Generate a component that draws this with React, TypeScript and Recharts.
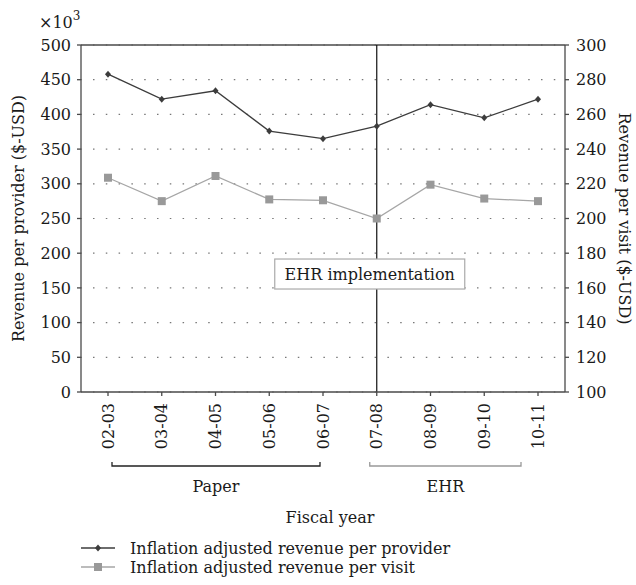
import React from "react";
import {
  LineChart,
  Line,
  XAxis,
  YAxis,
  CartesianGrid,
  ReferenceLine,
  ReferenceArea,
  Legend,
} from "recharts";

const fiscalYears = ["02-03", "03-04", "04-05", "05-06", "06-07", "07-08", "08-09", "09-10", "10-11"];
// thousands of USD
const revenuePerProvider = [458, 422, 434, 376, 365, 383, 414, 395, 422];
const revenuePerVisit = [223.5, 210, 224.5, 211, 210.5, 200, 219.5, 211.5, 210];
const leftTicks = [0, 50, 100, 150, 200, 250, 300, 350, 400, 450, 500];
const rightTicks = [100, 120, 140, 160, 180, 200, 220, 240, 260, 280, 300];
const seriesNames = [
  "Inflation adjusted revenue per provider",
  "Inflation adjusted revenue per visit",
];

const data = fiscalYears.map((year, i) => ({
  year,
  provider: revenuePerProvider[i],
  visit: revenuePerVisit[i],
}));

const FONT = "'DejaVu Serif', serif";
const FS = 16;
const AXIS = "#4a4a4a";
const DARK = "#3c3c3c";
const LIGHT = "#a6a6a6";

const Diamond = (props: any) => {
  const { cx, cy, index } = props;
  if (cx == null || cy == null) return null;
  return (
    <path
      key={"d" + index}
      d={`M${cx},${cy - 3.5}L${cx + 3},${cy}L${cx},${cy + 3.5}L${cx - 3},${cy}Z`}
      fill={DARK}
    />
  );
};

const Square = (props: any) => {
  const { cx, cy, index } = props;
  if (cx == null || cy == null) return null;
  return <rect key={"s" + index} x={cx - 4} y={cy - 4} width={8} height={8} fill="#999" />;
};

const YearTick = (props: any) => {
  const { x, y, payload } = props;
  return (
    <text
      x={x}
      y={y + 5}
      transform={`rotate(-90 ${x} ${y + 5})`}
      textAnchor="end"
      dy="0.35em"
      fontFamily={FONT}
      fontSize={FS}
      fill="#1a1a1a"
    >
      {payload.value}
    </text>
  );
};

const LeftLabel = (props: any) => {
  const { viewBox } = props;
  const { y, height } = viewBox;
  const cy = y + height / 2;
  return (
    <g fontFamily={FONT} fill="#1a1a1a">
      <text x={39} y={y - 17} fontSize={FS}>
        ×10
        <tspan dy={-8} fontSize={12}>3</tspan>
      </text>
      <text
        x={18}
        y={cy}
        transform={`rotate(-90 18 ${cy})`}
        textAnchor="middle"
        dominantBaseline="central"
        fontSize={FS}
      >
        Revenue per provider ($-USD)
      </text>
    </g>
  );
};

const RightLabel = (props: any) => {
  const { viewBox } = props;
  const { y, height } = viewBox;
  const cy = y + height / 2;
  return (
    <text
      x={624}
      y={cy}
      transform={`rotate(90 624 ${cy})`}
      textAnchor="middle"
      dominantBaseline="central"
      fontFamily={FONT}
      fontSize={FS}
      fill="#1a1a1a"
    >
      Revenue per visit ($-USD)
    </text>
  );
};

const FiscalLabel = (props: any) => {
  const { viewBox } = props;
  return (
    <text
      x={viewBox.x + viewBox.width / 2 + 7}
      y={viewBox.y + 125}
      textAnchor="middle"
      dominantBaseline="central"
      fontFamily={FONT}
      fontSize={FS}
      fill="#1a1a1a"
    >
      Fiscal year
    </text>
  );
};

const EhrLabel = (props: any) => {
  const { viewBox } = props;
  const cx = viewBox.x - 7;
  const cy = viewBox.y + viewBox.height * 0.66;
  return (
    <g>
      <rect x={cx - 95} y={cy - 15} width={190} height={30} fill="#fff" stroke="#aaa" strokeWidth={1.2} />
      <text
        x={cx}
        y={cy}
        textAnchor="middle"
        dominantBaseline="central"
        fontFamily={FONT}
        fontSize={FS}
        fill="#1a1a1a"
      >
        EHR implementation
      </text>
    </g>
  );
};

const makeBracket = (label: string, color: string, dl: number, dr: number) => (props: any) => {
  const { x, y, width, height } = props;
  const by = y + height + 74;
  const x1 = x + dl;
  const x2 = x + width + dr;
  return (
    <g>
      <path d={`M${x1},${by - 4}V${by}H${x2}V${by - 4}`} fill="none" stroke={color} strokeWidth={1.3} />
      <text
        x={(x1 + x2) / 2}
        y={by + 20}
        textAnchor="middle"
        dominantBaseline="central"
        fontFamily={FONT}
        fontSize={FS}
        fill="#1a1a1a"
      >
        {label}
      </text>
    </g>
  );
};

const PaperBracket = makeBracket("Paper", "#222", 4, -3);
const EhrBracket = makeBracket("EHR", "#999", -7, -17);

const LegendBox = () => (
  <svg width={636} height={50}>
    {seriesNames.map((name, i) => {
      const y = 13 + i * 19;
      return (
        <g key={name}>
          <line x1={81} x2={115} y1={y} y2={y} stroke={i === 0 ? DARK : LIGHT} strokeWidth={1.3} />
          {i === 0 ? (
            <path d={`M98,${y - 3.5}L101,${y}L98,${y + 3.5}L95,${y}Z`} fill={DARK} />
          ) : (
            <rect x={94} y={y - 4} width={8} height={8} fill="#999" />
          )}
          <text x={130} y={y} dominantBaseline="central" fontFamily={FONT} fontSize={FS} fill="#1a1a1a">
            {name}
          </text>
        </g>
      );
    })}
  </svg>
);

export default function App() {
  return (
    <div style={{ position: "absolute", left: 0, top: 0, background: "#fff" }}>
      <LineChart width={636} height={585} data={data} margin={{ top: 45, right: 0, bottom: 0, left: 0 }}>
        <CartesianGrid
          yAxisId="left"
          vertical={false}
          stroke="#777"
          strokeWidth={1.2}
          strokeDasharray="1.5 11.3"
          strokeDashoffset={0.8}
        />
        <XAxis
          dataKey="year"
          height={193}
          padding={{ left: 27, right: 27 }}
          stroke={AXIS}
          strokeWidth={1.3}
          tickSize={4}
          tick={<YearTick />}
          interval={0}
          label={<FiscalLabel />}
        />
        <YAxis
          yAxisId="left"
          width={81}
          domain={[0, 500]}
          ticks={leftTicks}
          stroke={AXIS}
          strokeWidth={1.3}
          tickSize={4}
          tickMargin={6}
          tick={{ fontFamily: FONT, fontSize: FS, fill: "#1a1a1a" }}
          label={<LeftLabel />}
        />
        <YAxis
          yAxisId="right"
          orientation="right"
          width={71}
          domain={[100, 300]}
          ticks={rightTicks}
          stroke={AXIS}
          strokeWidth={1.3}
          tickSize={4}
          tickMargin={7}
          tick={{ fontFamily: FONT, fontSize: FS, fill: "#1a1a1a", textAnchor: "start" }}
          label={<RightLabel />}
        />
        <ReferenceLine yAxisId="left" y={500} stroke={AXIS} strokeWidth={1.3} />
        <ReferenceArea yAxisId="left" x1="02-03" x2="06-07" fillOpacity={0} shape={<PaperBracket />} />
        <ReferenceArea yAxisId="left" x1="07-08" x2="10-11" fillOpacity={0} shape={<EhrBracket />} />
        <Line
          yAxisId="left"
          dataKey="provider"
          name={seriesNames[0]}
          stroke={DARK}
          strokeWidth={1.3}
          dot={<Diamond />}
          activeDot={false}
          isAnimationActive={false}
        />
        <Line
          yAxisId="right"
          dataKey="visit"
          name={seriesNames[1]}
          stroke={LIGHT}
          strokeWidth={1.3}
          dot={<Square />}
          activeDot={false}
          isAnimationActive={false}
        />
        <ReferenceLine
          yAxisId="left"
          x="07-08"
          stroke="#111"
          strokeWidth={1.2}
          label={<EhrLabel />}
        />
        <Legend
          layout="vertical"
          align="center"
          verticalAlign="middle"
          content={<LegendBox />}
          wrapperStyle={{ left: 0, top: 535, width: 636, height: 50 }}
        />
      </LineChart>
    </div>
  );
}
